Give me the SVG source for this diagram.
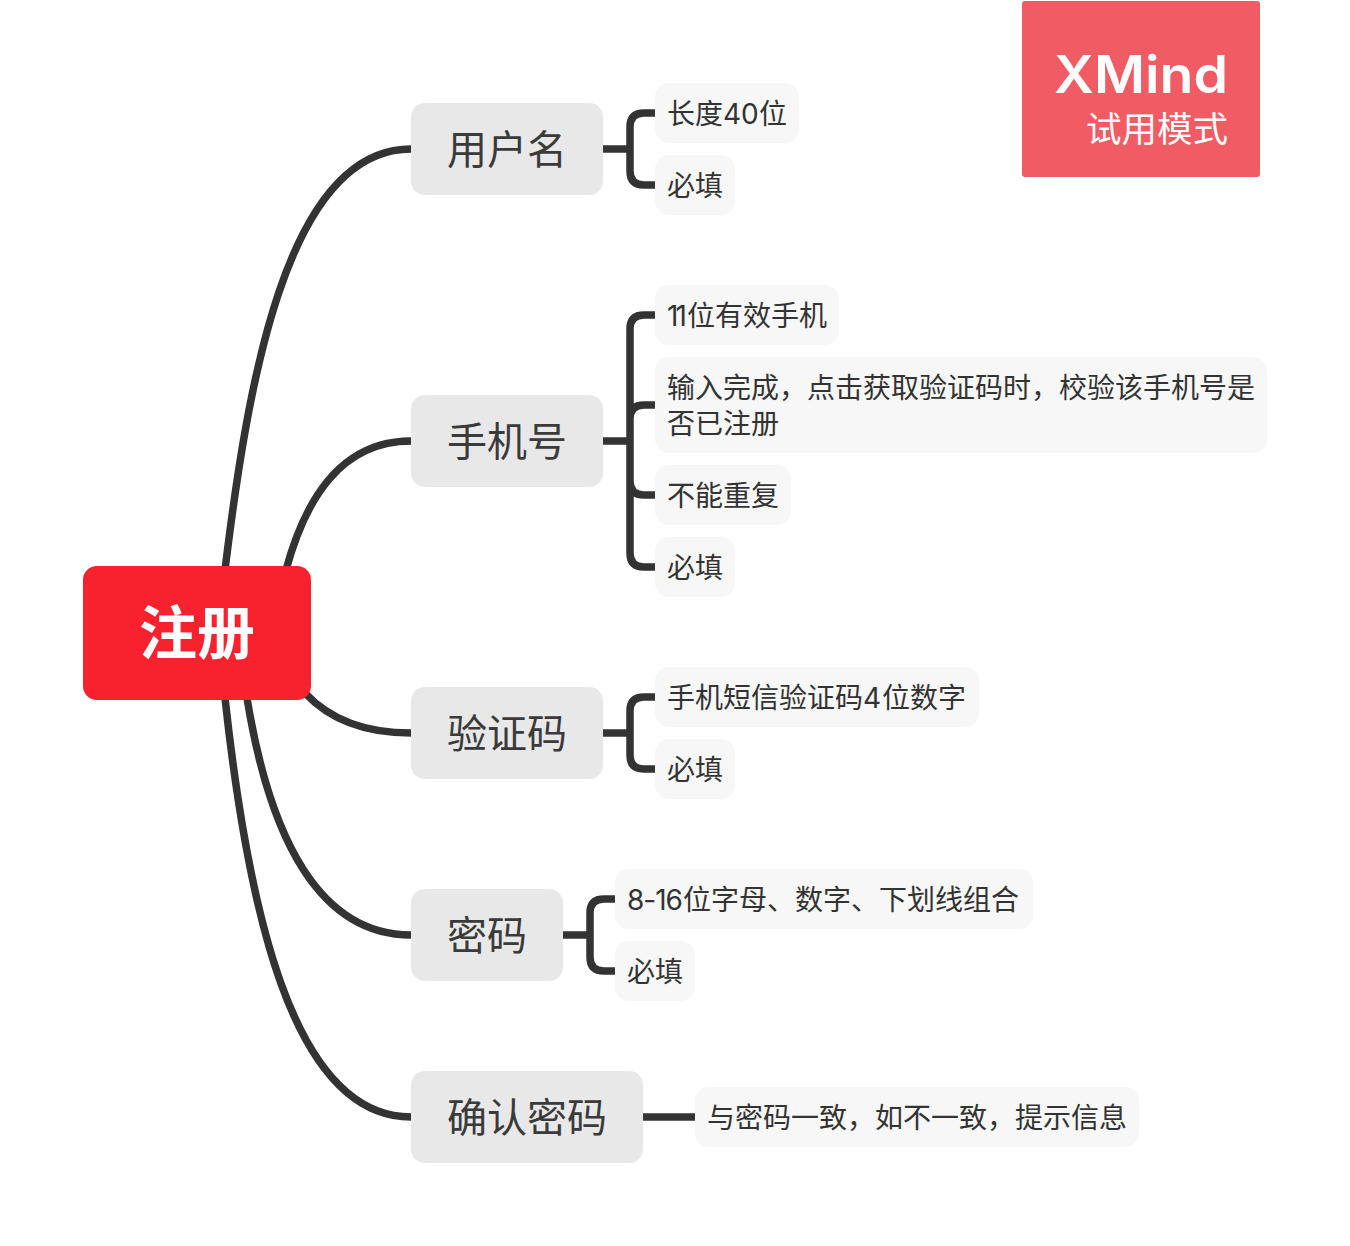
<svg xmlns="http://www.w3.org/2000/svg" width="1350" height="1246" viewBox="0 0 1350 1246">
<style>
text{font-family:"Noto Sans CJK SC","Noto Sans",sans-serif;fill:#333}
.l{font-family:"Inter","Noto Sans",sans-serif}
.m rect{fill:#e8e8e8}
.m text{font-size:40px;fill:#3a3a3a}
.s rect{fill:#f7f7f7}
.s text{font-size:28px}
#connectors path{fill:none;stroke:#333;stroke-width:7.5}
</style>
<rect width="1350" height="1246" fill="#fff"/>
<g id="connectors">
<path d="M225 570C247 390 285 149 411 149"/>
<path d="M286 570C305 500 340 441 411 441"/>
<path d="M305 693C330 720 365 733 411 733"/>
<path d="M247 698C270 840 320 935 411 935"/>
<path d="M225 698C247 900 290 1117 411 1117"/>
<path d="M603 149H630M655 113H644Q630 113 630 127V171Q630 185 644 185H655"/>
<path d="M603 441H630M655 315H644Q630 315 630 329V553Q630 567 644 567H655M630 419Q630 405 644 405H655M630 481Q630 495 644 495H655"/>
<path d="M603 733H630M655 697H644Q630 697 630 711V755Q630 769 644 769H655"/>
<path d="M563 935H590M615 899H604Q590 899 590 913V957Q590 971 604 971H615"/>
<path d="M643 1117H695"/>
</g>
<g id="wm"><rect x="1022" y="1" width="238" height="176" rx="3" fill="#f15b64"/>
<text class="l" x="1054" y="93" style="font-size:52px;fill:#fff;font-family:'Inter','Noto Sans',sans-serif;font-weight:600" textLength="174" lengthAdjust="spacingAndGlyphs">XMind</text>
<text x="1086" y="142" style="font-size:35.5px;fill:#fff">试用模式</text></g>
<g id="root"><rect x="83" y="566" width="228" height="134" rx="14" fill="#f8212e"/>
<text x="197" y="654" text-anchor="middle" style="font-size:58px;font-weight:700;fill:#fff">注册</text></g>
<g id="m1" class="m"><rect x="411" y="103" width="192" height="92" rx="14"/><text x="447" y="164">用户名</text></g>
<g id="m2" class="m"><rect x="411" y="395" width="192" height="92" rx="14"/><text x="447" y="456">手机号</text></g>
<g id="m3" class="m"><rect x="411" y="687" width="192" height="92" rx="14"/><text x="447" y="748">验证码</text></g>
<g id="m4" class="m"><rect x="411" y="889" width="152" height="92" rx="14"/><text x="447" y="950">密码</text></g>
<g id="m5" class="m"><rect x="411" y="1071" width="232" height="92" rx="14"/><text x="447" y="1132">确认密码</text></g>
<g id="s1" class="s"><rect x="655" y="83" width="144" height="60" rx="14"/><text x="667" y="124">长度<tspan class="l">40</tspan><tspan x="759">位</tspan></text></g>
<g id="s2" class="s"><rect x="655" y="155" width="80" height="60" rx="14"/><text x="667" y="196">必填</text></g>
<g id="s3" class="s"><rect x="655" y="285" width="184" height="60" rx="14"/><text x="667" y="326"><tspan class="l" letter-spacing="-3">11</tspan><tspan x="687">位有效手机</tspan></text></g>
<g id="s4" class="s"><rect x="655" y="357" width="612" height="96" rx="14"/><text x="667" y="398">输入完成，点击获取验证码时，校验该手机号是</text><text x="667" y="434">否已注册</text></g>
<g id="s5" class="s"><rect x="655" y="465" width="136" height="60" rx="14"/><text x="667" y="506">不能重复</text></g>
<g id="s6" class="s"><rect x="655" y="537" width="80" height="60" rx="14"/><text x="667" y="578">必填</text></g>
<g id="s7" class="s"><rect x="655" y="667" width="324" height="60" rx="14"/><text x="667" y="708">手机短信验证码<tspan class="l">4</tspan><tspan x="882">位数字</tspan></text></g>
<g id="s8" class="s"><rect x="655" y="739" width="80" height="60" rx="14"/><text x="667" y="780">必填</text></g>
<g id="s9" class="s"><rect x="615" y="869" width="418" height="60" rx="14"/><text x="627" y="910"><tspan class="l" letter-spacing="-1">8-16</tspan><tspan x="683">位字母、数字、下划线组合</tspan></text></g>
<g id="s10" class="s"><rect x="615" y="941" width="80" height="60" rx="14"/><text x="627" y="982">必填</text></g>
<g id="s11" class="s"><rect x="695" y="1087" width="444" height="60" rx="14"/><text x="707" y="1128">与密码一致，如不一致，提示信息</text></g>
</svg>
